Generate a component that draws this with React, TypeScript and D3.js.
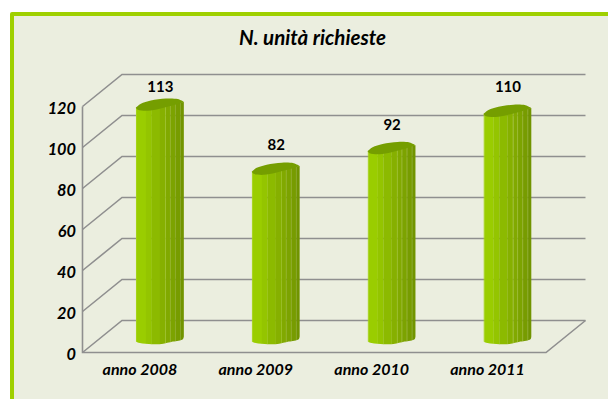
import React from "react";
import * as d3 from "d3";

const categories = ["anno 2008", "anno 2009", "anno 2010", "anno 2011"];
const values = [113, 82, 92, 110];
const yTicks = [0, 20, 40, 60, 80, 100, 120];
const title = "N. unità richieste";

const FONT = "Lato, Carlito, sans-serif";
const facets: [number, number, string][] = [
  [0, 0.02, "#A8D51E"],
  [0.02, 0.21, "#9ACD00"],
  [0.21, 0.33, "#94C500"],
  [0.33, 0.5, "#8CBA00"],
  [0.5, 0.61, "#86B000"],
  [0.61, 0.625, "#9DC22A"],
  [0.625, 0.71, "#81A900"],
  [0.71, 0.72, "#97B72A"],
  [0.72, 0.815, "#7CA300"],
  [0.815, 0.825, "#91AF2A"],
  [0.825, 0.92, "#779C00"],
  [0.92, 0.93, "#8AA828"],
  [0.93, 1, "#719400"],
];

const front = { left: 82.5, right: 546, base: 352.5, top: 106.5 };
const depth = { dx: 39.5, dy: -32 };
const gridColor = "#8F8F8F";

export default function App() {
  const x = d3.scaleBand<string>().domain(categories).range([front.left, front.right]);
  const y = d3.scaleLinear().domain([0, 120]).range([front.base, front.top]);
  // bar axis sits at roughly mid depth; it rises slightly faster than the walls
  const barY = d3.scaleLinear().domain([0, 120]).range([339, 90.6]);
  const barW = 48;
  const barCx = (c: string) => (x(c) as number) + x.bandwidth() / 2 + 19.4;

  const curve = d3.line<[number, number]>().curve(d3.curveCatmullRom.alpha(0.5));
  // foot of the bar, from left end to right end
  const baseEdge = (cx: number, cy: number): [number, number][] => [
    [cx - barW / 2, cy + 2.4],
    [cx - barW / 2 + 4, cy + 4],
    [cx - 8, cy + 5.2],
    [cx + 2, cy + 5],
    [cx + 13, cy + 2.6],
    [cx + barW / 2 - 1, cy + 0.2],
    [cx + barW / 2, cy - 2.4],
  ];
  // cap of the bar: front edge left to right, then back edge right to left
  const capFront = (cx: number, cy: number): [number, number][] => [
    [cx - barW / 2, cy + 2.6],
    [cx - barW / 2 + 2, cy + 4.6],
    [cx - 12, cy + 5.6],
    [cx, cy + 3.6],
    [cx + 15, cy - 0.4],
    [cx + barW / 2, cy - 3.2],
  ];
  const capBack = (cx: number, cy: number): [number, number][] => [
    [cx + barW / 2, cy - 3.2],
    [cx + 18, cy - 6],
    [cx + 6, cy - 6.6],
    [cx - 9, cy - 4.6],
    [cx - 19, cy - 1.4],
    [cx - barW / 2, cy + 2.6],
  ];

  return (
    <svg
      width={608}
      height={399}
      viewBox="0 0 608 399"
      style={{ position: "absolute", left: 0, top: 0, display: "block" }}
    >
      <rect width={608} height={399} fill="#FFFFFF" />
      <path d="M608 12H12Q10 12 10 14V399H608Z" fill="#9FD000" />
      <rect x={14} y={16} width={594} height={383} fill="#EBEEDF" />

      <text x={312.5} y={44.5} textAnchor="middle" fontFamily={FONT} fontWeight={700} fontStyle="italic" fontSize={20.5} fill="#000">
        {title}
      </text>

      {/* walls and gridlines */}
      <g fill="none" stroke={gridColor} strokeWidth={1.6}>
        {yTicks.map((t) => (
          <path
            key={t}
            d={`M${front.left} ${y(t)}L${front.left + depth.dx} ${y(t) + depth.dy}H${front.right + depth.dx}`}
          />
        ))}
        <path d={`M${front.left} ${y(120)}V${y(0)}H${front.right}L${front.right + depth.dx} ${y(0) + depth.dy}`} />
      </g>

      {/* y axis labels */}
      {yTicks.map((t) => (
        <text key={t} x={76} y={y(t) + 7} textAnchor="end" fontFamily={FONT} fontWeight={700} fontStyle="italic" fontSize={16.3} fill="#000">
          {t}
        </text>
      ))}

      {/* bars */}
      {categories.map((c, i) => {
        const cx = barCx(c);
        const top = barY(values[i]);
        const base = barY(0);
        const body =
          `M${cx - barW / 2} ${top + 2.6}` +
          `L${cx - barW / 2} ${base + 2.4}` +
          (curve(baseEdge(cx, base)) as string).replace(/^M[^CLc]*/, "") +
          `L${cx + barW / 2} ${top - 3.2}Z`;
        const id = `bar-clip-${i}`;
        return (
          <g key={c}>
            <clipPath id={id}>
              <path d={body} />
            </clipPath>
            <g clipPath={`url(#${id})`}>
              {facets.map(([a, b, col]) => (
                <rect
                  key={a}
                  x={cx - barW / 2 + a * barW}
                  y={top - 8}
                  width={(b - a) * barW + 0.2}
                  height={base - top + 20}
                  fill={col}
                />
              ))}
            </g>
            <path
              d={(curve(capFront(cx, top)) as string) + "L" + (curve(capBack(cx, top)) as string).slice(1) + "Z"}
              fill="#759E00"
            />
            <text x={cx + 0.5} y={Math.max(92, top - 19)} textAnchor="middle" fontFamily={FONT} fontWeight={700} fontSize={15} fill="#000">
              {values[i]}
            </text>
          </g>
        );
      })}

      {/* x axis labels */}
      {categories.map((c) => (
        <text
          key={c}
          x={(x(c) as number) + x.bandwidth() / 2 - 0.5}
          y={375}
          textAnchor="middle"
          fontFamily={FONT}
          fontWeight={700}
          fontStyle="italic"
          fontSize={16}
          fill="#000"
        >
          {c}
        </text>
      ))}
    </svg>
  );
}
